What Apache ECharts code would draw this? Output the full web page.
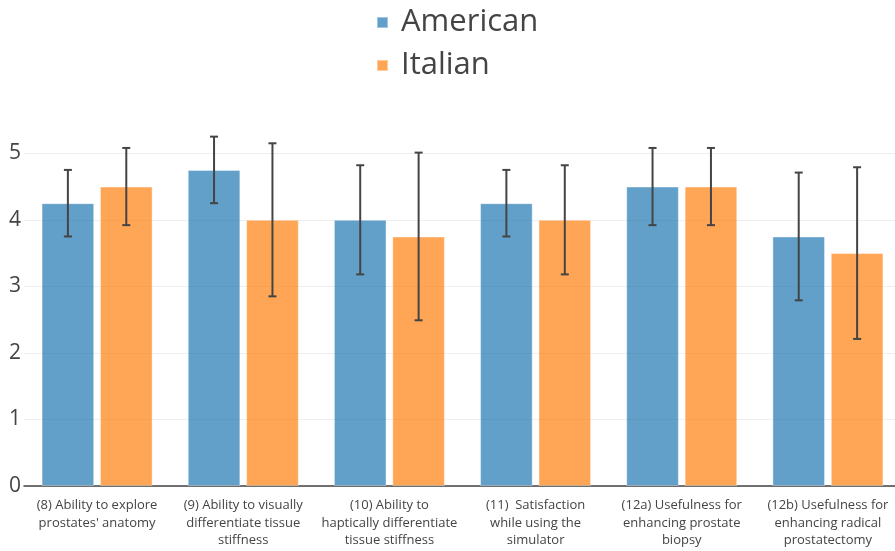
<!DOCTYPE html>
<html>
<head>
<meta charset="utf-8">
<script src="https://cdn.jsdelivr.net/npm/echarts@6/dist/echarts.min.js"></script>
<style>
  html, body { margin: 0; padding: 0; background: #fff; }
  #chart { width: 895px; height: 551px; }
</style>
</head>
<body>
<div id="chart"></div>
<script>
// survey items, mean scores and standard deviations
var categories = [
  "(8) Ability to explore\nprostates' anatomy",
  "(9) Ability to visually\ndifferentiate tissue\nstiffness",
  "(10) Ability to\nhaptically differentiate\ntissue stiffness",
  "(11)  Satisfaction\nwhile using the\nsimulator",
  "(12a) Usefulness for\nenhancing prostate\nbiopsy",
  "(12b) Usefulness for\nenhancing radical\nprostatectomy"
];
var american = [4.25, 4.75, 4.0, 4.25, 4.5, 3.75];
var italian = [4.5, 4.0, 3.75, 4.0, 4.5, 3.5];
var americanErr = [0.5, 0.5, 0.82, 0.5, 0.58, 0.96];
var italianErr = [0.58, 1.15, 1.26, 0.82, 0.58, 1.29];
var yTicks = [0, 1, 2, 3, 4, 5];

var BAR_PCT = 0.36;   // bar width as share of a category
var GAP_PCT = 0.11;   // gap between bars as share of a bar

function errorSeries(name, values, errs, side) {
  var data = values.map(function (v, i) { return [i, v - errs[i], v + errs[i]]; });
  return {
    name: name,
    type: 'custom',
    z: 10,
    silent: true,
    renderItem: function (params, api) {
      var catW = api.size([1, 0])[0];
      var barW = catW * BAR_PCT;
      var off = side * (barW + barW * GAP_PCT) / 2;
      var lo = api.coord([api.value(0), api.value(1)]);
      var hi = api.coord([api.value(0), api.value(2)]);
      var x = lo[0] + off;
      var cap = 4;
      var st = { stroke: '#444', lineWidth: 2 };
      return {
        type: 'group',
        children: [
          { type: 'line', shape: { x1: x, y1: lo[1], x2: x, y2: hi[1] }, style: st },
          { type: 'line', shape: { x1: x - cap, y1: hi[1], x2: x + cap, y2: hi[1] }, style: st },
          { type: 'line', shape: { x1: x - cap, y1: lo[1], x2: x + cap, y2: lo[1] }, style: st }
        ]
      };
    },
    encode: { x: 0, y: [1, 2] },
    data: data
  };
}

var chart = echarts.init(document.getElementById('chart'));
var option = {
  animation: false,
  textStyle: { fontFamily: 'Open Sans' },
  legend: {
    data: ['American', 'Italian'],
    orient: 'vertical',
    left: 371,
    top: 2,
    itemWidth: 11,
    itemHeight: 11,
    itemGap: 12,
    icon: 'rect',
    textStyle: { fontSize: 31, color: '#444', fontFamily: 'Open Sans', padding: [0, 0, 0, 8] }
  },
  grid: { left: 24, width: 877, top: 120, bottom: 65, outerBoundsMode: 'none', containLabel: false },
  xAxis: {
    type: 'category',
    data: categories,
    axisTick: { show: false },
    axisLine: { lineStyle: { color: '#444', width: 1.5 } },
    axisLabel: { color: '#444', fontSize: 13, lineHeight: 17.5, margin: 11, interval: 0 }
  },
  yAxis: {
    type: 'value',
    min: 0,
    max: 5.5,
    interval: 1,
    axisLine: { show: false },
    axisTick: { show: false },
    splitLine: {
      lineStyle: { color: ['#eee', '#eee', '#eee', '#eee', '#eee', '#eee', 'rgba(0,0,0,0)'] }
    },
    axisLabel: {
      color: '#444', fontSize: 21, margin: 3,
      formatter: function (v) { return yTicks.indexOf(v) >= 0 ? String(v) : ''; }
    }
  },
  series: [
    {
      name: 'American',
      type: 'bar',
      data: american,
      barWidth: (BAR_PCT * 100) + '%',
      barGap: (GAP_PCT * 100) + '%',
      itemStyle: { color: 'rgba(31,119,180,0.7)', borderColor: 'rgba(255,255,255,0.4)', borderWidth: 1 }
    },
    {
      name: 'Italian',
      type: 'bar',
      data: italian,
      barWidth: (BAR_PCT * 100) + '%',
      barGap: (GAP_PCT * 100) + '%',
      itemStyle: { color: 'rgba(255,127,14,0.7)', borderColor: 'rgba(255,255,255,0.4)', borderWidth: 1 }
    },
    errorSeries('American', american, americanErr, -1),
    errorSeries('Italian', italian, italianErr, 1)
  ]
};
chart.setOption(option);
</script>
</body>
</html>
